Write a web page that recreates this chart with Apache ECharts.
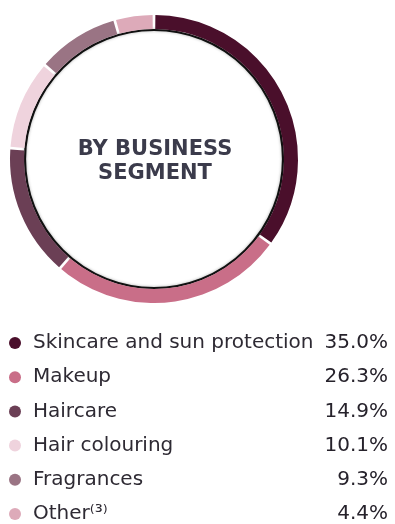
<!DOCTYPE html>
<html>
<head>
<meta charset="utf-8">
<script src="https://cdn.jsdelivr.net/npm/echarts@6/dist/echarts.min.js"></script>
<style>
html,body{margin:0;padding:0;background:#fff;}
#c{width:395px;height:524px;}
</style>
</head>
<body>
<div id="c"></div>
<script>
const categories = ['Skincare and sun protection', 'Makeup', 'Haircare', 'Hair colouring', 'Fragrances', 'Other⁽³⁾'];
const values = [35.0, 26.3, 14.9, 10.1, 9.3, 4.4];
const valueLabels = ['35.0%', '26.3%', '14.9%', '10.1%', '9.3%', '4.4%'];
const colors = ['#4a0f2b', '#c96e88', '#6b3f55', '#efd3dd', '#9a7484', '#ddaab9'];
const centerTitle = 'BY BUSINESS\nSEGMENT';

const chart = echarts.init(document.getElementById('c'), null, {renderer: 'canvas'});
const cx = 154, cy = 159;
const data = categories.map((n, i) => ({name: n, value: values[i], itemStyle: {color: colors[i]}}));
const labelMap = {};
categories.forEach((n, i) => labelMap[n] = valueLabels[i]);

chart.setOption({
  animation: false,
  legend: {
    orient: 'vertical',
    left: 9,
    top: 333,
    padding: 0,
    icon: 'circle',
    itemWidth: 12,
    itemHeight: 12,
    itemGap: 14.2,
    selectedMode: false,
    data: categories,
    formatter: function (name) {
      return '{n|' + name + '}{v|' + labelMap[name] + '}';
    },
    textStyle: {
      rich: {
        n: {fontFamily: 'DejaVu Sans', fontSize: 20, color: '#2e2a33', width: 295, padding: [0, 0, 0, 7]},
        v: {fontFamily: 'DejaVu Sans', fontSize: 20, fontWeight: 500, color: '#26222b', width: 60, align: 'right'}
      }
    }
  },
  graphic: [
    {
      type: 'circle',
      shape: {cx: cx, cy: cy, r: 129},
      style: {fill: 'none', stroke: '#111', lineWidth: 2.2, shadowBlur: 3, shadowColor: 'rgba(0,0,0,0.35)'},
      silent: true,
      z: 1
    },
    {
      type: 'text',
      x: cx + 1,
      y: cy + 2.5,
      style: {
        text: centerTitle,
        fontFamily: 'DejaVu Sans',
        fontWeight: 'bold',
        fontSize: 21,
        lineHeight: 23.5,
        fill: '#3b3b4b',
        align: 'center',
        verticalAlign: 'middle'
      },
      z: 10
    }
  ],
  series: [{
    type: 'pie',
    center: [cx, cy],
    radius: [130, 144],
    startAngle: 90,
    clockwise: true,
    padAngle: 1.1,
    silent: true,
    label: {show: false},
    labelLine: {show: false},
    data: data,
    z: 2
  }]
});
</script>
</body>
</html>
